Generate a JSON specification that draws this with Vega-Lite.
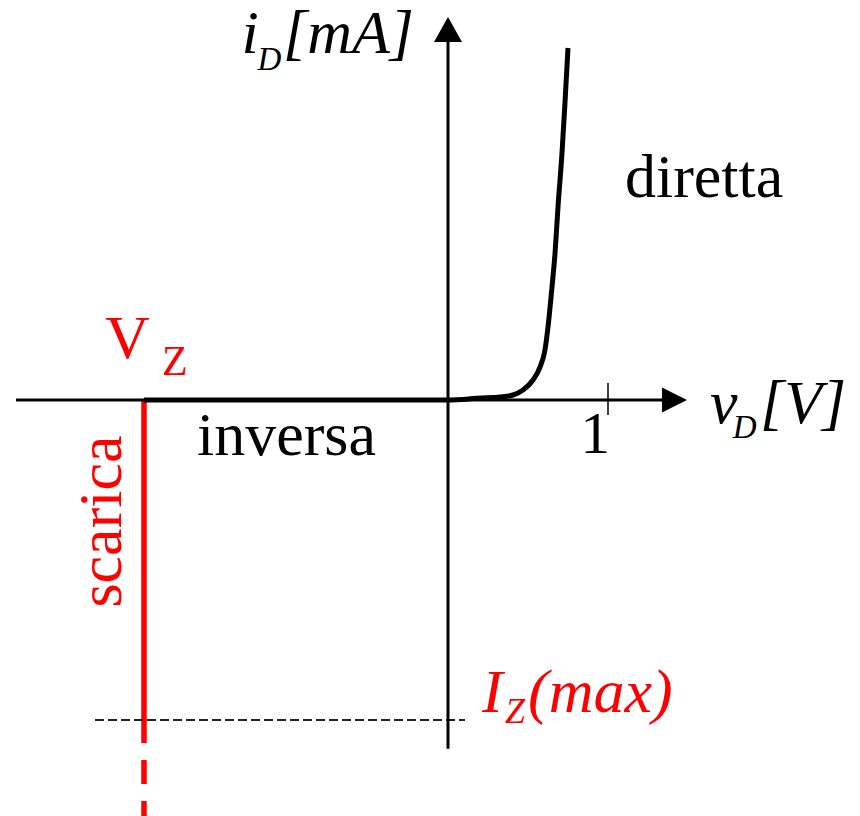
{
  "$schema": "https://vega.github.io/schema/vega-lite/v6.json",
  "width": 860,
  "height": 816,
  "padding": 0,
  "autosize": {"type": "none"},
  "background": "white",
  "config": {"view": {"stroke": null}, "text": {"font": "Liberation Serif"}},
  "encoding": {
    "x": {"field": "v", "type": "quantitative", "axis": null, "scale": {"domain": [-2.8, 2.575], "nice": false, "zero": false}},
    "y": {"field": "i", "type": "quantitative", "axis": null, "scale": {"domain": [-13, 12.5], "nice": false, "zero": false}}
  },
  "layer": [
    {
      "description": "breakdown branch at V_Z, solid down to I_Z(max)",
      "data": {"values": [{"v": -1.9, "i": 0, "i2": -10.72}]},
      "mark": {"type": "rule", "color": "#ff0000", "strokeWidth": 5.5},
      "encoding": {"y2": {"field": "i2"}}
    },
    {
      "description": "breakdown branch continued past I_Z(max)",
      "data": {"values": [{"v": -1.9, "i": -10.72, "i2": -13.5}]},
      "mark": {"type": "rule", "color": "#ff0000", "strokeWidth": 5.5, "strokeDash": [24, 17], "strokeDashOffset": 24},
      "encoding": {"y2": {"field": "i2"}}
    },
    {
      "description": "I_Z(max) level",
      "data": {"values": [{"v": -2.206, "v2": 0.106, "i": -10}]},
      "mark": {"type": "rule", "color": "#222222", "strokeWidth": 2, "strokeDash": [9, 4]},
      "encoding": {"x2": {"field": "v2"}}
    },
    {
      "description": "v_D axis",
      "data": {"values": [{"v": -2.7, "v2": 1.36, "i": 0}]},
      "mark": {"type": "rule", "color": "black", "strokeWidth": 3},
      "encoding": {"x2": {"field": "v2"}}
    },
    {
      "description": "i_D axis",
      "data": {"values": [{"v": 0, "i": -10.9, "i2": 11.4}]},
      "mark": {"type": "rule", "color": "black", "strokeWidth": 3},
      "encoding": {"y2": {"field": "i2"}}
    },
    {
      "description": "tick at 1 V",
      "data": {"values": [{"v": 1, "i": 0.53, "i2": -0.47}]},
      "mark": {"type": "rule", "color": "black", "strokeWidth": 1.5},
      "encoding": {"y2": {"field": "i2"}}
    },
    {
      "description": "arrowhead of the v_D axis",
      "data": {"values": [{"v": 1.4156, "i": 0}]},
      "mark": {"type": "point", "shape": "M-1,-1L1,0L-1,1Z", "size": 625, "filled": true, "color": "black", "opacity": 1, "strokeWidth": 0}
    },
    {
      "description": "arrowhead of the i_D axis",
      "data": {"values": [{"v": 0, "i": 11.578}]},
      "mark": {"type": "point", "shape": "M-1,0.9L0,-0.9L1,0.9Z", "size": 784, "filled": true, "color": "black", "opacity": 1, "strokeWidth": 0}
    },
    {
      "description": "diode characteristic: reverse region and forward conduction",
      "data": {"values": [
        {"v": -1.9, "i": 0},
        {"v": 0, "i": 0},
        {"v": 0.2, "i": 0.06},
        {"v": 0.325, "i": 0.094},
        {"v": 0.406, "i": 0.156},
        {"v": 0.469, "i": 0.31},
        {"v": 0.531, "i": 0.625},
        {"v": 0.575, "i": 1.03},
        {"v": 0.606, "i": 1.56},
        {"v": 0.625, "i": 2.28},
        {"v": 0.65, "i": 3.53},
        {"v": 0.669, "i": 4.59},
        {"v": 0.6875, "i": 6.03},
        {"v": 0.7125, "i": 7.72},
        {"v": 0.731, "i": 9.28},
        {"v": 0.75, "i": 11.0}
      ]},
      "mark": {"type": "line", "color": "black", "strokeWidth": 5, "interpolate": "monotone", "strokeCap": "butt"}
    },
    {
      "description": "upright black labels",
      "data": {"values": [
        {"v": 1.106, "i": 6.35, "t": "diretta"},
        {"v": -1.569, "i": -1.72, "t": "inversa"}
      ]},
      "mark": {"type": "text", "fontSize": 62, "align": "left", "baseline": "alphabetic", "color": "black"},
      "encoding": {"text": {"field": "t"}}
    },
    {
      "description": "tick label",
      "data": {"values": [{"v": 0.92, "i": -1.656, "t": "1"}]},
      "mark": {"type": "text", "fontSize": 60, "align": "center", "baseline": "alphabetic", "color": "black"},
      "encoding": {"text": {"field": "t"}}
    },
    {
      "description": "axis titles, italic main part",
      "data": {"values": [
        {"v": -1.29, "i": 10.84, "t": "i"},
        {"v": -1.031, "i": 10.84, "t": "[mA]"},
        {"v": 1.6375, "i": -0.72, "t": "v"},
        {"v": 1.95, "i": -0.72, "t": "[V]"}
      ]},
      "mark": {"type": "text", "fontStyle": "italic", "fontSize": 62, "align": "left", "baseline": "alphabetic", "color": "black"},
      "encoding": {"text": {"field": "t"}}
    },
    {
      "description": "axis titles, subscripts",
      "data": {"values": [
        {"v": -1.19, "i": 10.3, "t": "D"},
        {"v": 1.78, "i": -1.2, "t": "D"}
      ]},
      "mark": {"type": "text", "fontStyle": "italic", "fontSize": 33, "align": "left", "baseline": "alphabetic", "color": "black"},
      "encoding": {"text": {"field": "t"}}
    },
    {
      "description": "V_Z main letter",
      "data": {"values": [{"v": -2.144, "i": 1.3125, "t": "V"}]},
      "mark": {"type": "text", "fontSize": 62, "align": "left", "baseline": "alphabetic", "color": "#ff0000"},
      "encoding": {"text": {"field": "t"}}
    },
    {
      "description": "V_Z subscript",
      "data": {"values": [{"v": -1.7875, "i": 0.78, "t": "Z"}]},
      "mark": {"type": "text", "fontSize": 42, "align": "left", "baseline": "alphabetic", "color": "#ff0000"},
      "encoding": {"text": {"field": "t"}}
    },
    {
      "description": "breakdown label",
      "data": {"values": [{"v": -2.044, "i": -3.797, "t": "scarica"}]},
      "mark": {"type": "text", "fontSize": 62, "angle": -90, "align": "center", "baseline": "alphabetic", "color": "#ff0000"},
      "encoding": {"text": {"field": "t"}}
    },
    {
      "description": "I_Z(max) label, italic main part",
      "data": {"values": [
        {"v": 0.2125, "i": -9.75, "t": "I"},
        {"v": 0.5, "i": -9.75, "t": "(max)"}
      ]},
      "mark": {"type": "text", "fontStyle": "italic", "fontSize": 62, "align": "left", "baseline": "alphabetic", "color": "#ff0000"},
      "encoding": {"text": {"field": "t"}}
    },
    {
      "description": "I_Z(max) subscript",
      "data": {"values": [{"v": 0.356, "i": -10.09, "t": "Z"}]},
      "mark": {"type": "text", "fontStyle": "italic", "fontSize": 36, "align": "left", "baseline": "alphabetic", "color": "#ff0000"},
      "encoding": {"text": {"field": "t"}}
    }
  ]
}
